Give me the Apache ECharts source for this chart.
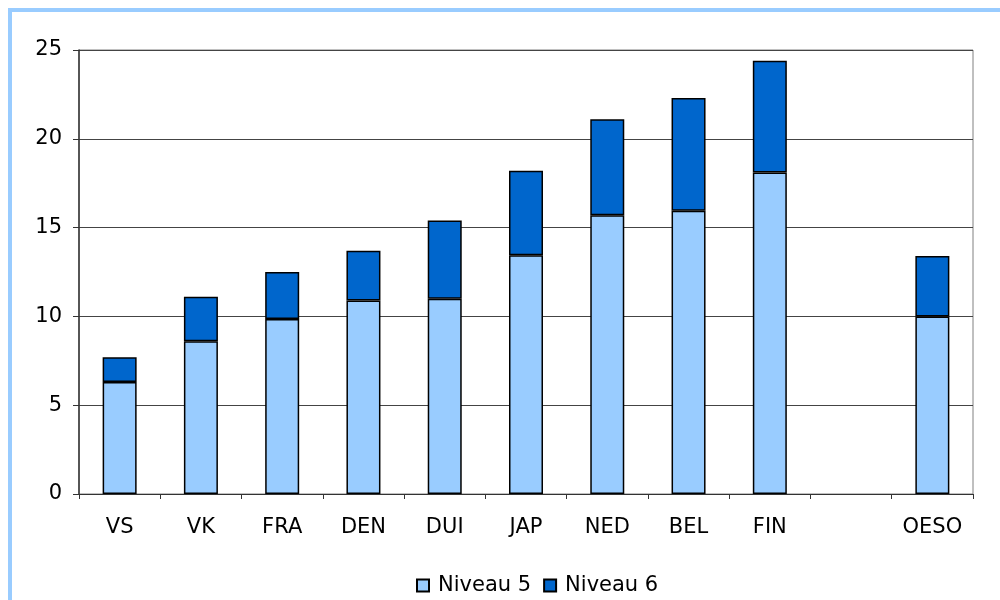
<!DOCTYPE html>
<html>
<head>
<meta charset="utf-8">
<title>Niveau 5 en 6</title>
<script src="https://cdn.jsdelivr.net/npm/echarts@6/dist/echarts.min.js"></script>
<style>
  html, body { margin: 0; padding: 0; background: #fff; overflow: hidden; }
  /* lichtblauwe rand, rechts en onder vallen buiten beeld */
  .frame {
    position: absolute; left: 8px; top: 8px;
    width: 1010px; height: 610px;
    border: 4px solid #99ccff; box-sizing: border-box;
  }
  #chart { position: absolute; left: 0; top: 0; width: 1000px; height: 600px; }
</style>
</head>
<body>
<div class="frame"></div>
<div id="chart"></div>
<script>
// Data
const categories = ['VS', 'VK', 'FRA', 'DEN', 'DUI', 'JAP', 'NED', 'BEL', 'FIN', '', 'OESO']
const niveau5 = [6.3, 8.6, 9.85, 10.9, 11.0, 13.45, 15.7, 15.95, 18.1, null, 10.0]
const niveau6 = [1.4, 2.5, 2.65, 2.8, 4.4, 4.75, 5.4, 6.35, 6.3, null, 3.4]
const yTicks = [0, 5, 10, 15, 20, 25]

const chart = echarts.init(document.getElementById('chart'))

const barStyle = color => ({
  color: color,
  borderColor: '#000',
  borderWidth: 1.5
})

chart.setOption({
  animation: false,
  textStyle: { fontFamily: 'DejaVu Sans', color: '#000' },
  grid: {
    left: 79, right: 27, top: 50, bottom: 106,
    show: true, borderColor: '#808080', borderWidth: 1
  },
  legend: {
    left: 411,
    top: 570,
    itemWidth: 12,
    itemHeight: 12,
    itemGap: 12,
    icon: 'rect',
    textStyle: { fontSize: 21, color: '#000', padding: [0, 0, 0, 4] },
    data: ['Niveau 5', 'Niveau 6']
  },
  xAxis: {
    type: 'category',
    data: categories,
    axisLine: { lineStyle: { color: '#333', width: 1 } },
    axisTick: { show: true, length: 5, lineStyle: { color: '#333' } },
    axisLabel: { fontSize: 21, color: '#000', margin: 23, interval: 0 }
  },
  yAxis: {
    type: 'value',
    min: yTicks[0],
    max: yTicks[yTicks.length - 1],
    interval: 5,
    axisLine: { show: true, lineStyle: { color: '#333', width: 1.5 } },
    axisTick: { show: true, length: 6, lineStyle: { color: '#333' } },
    axisLabel: { fontSize: 21, color: '#000', margin: 17 },
    splitLine: { lineStyle: { color: '#444', width: 1 } }
  },
  series: [
    {
      name: 'Niveau 5',
      type: 'bar',
      stack: 'totaal',
      data: niveau5,
      barWidth: 34,
      itemStyle: barStyle('#99ccff')
    },
    {
      name: 'Niveau 6',
      type: 'bar',
      stack: 'totaal',
      data: niveau6,
      barWidth: 34,
      itemStyle: barStyle('#0066cc')
    }
  ]
})
</script>
</body>
</html>
